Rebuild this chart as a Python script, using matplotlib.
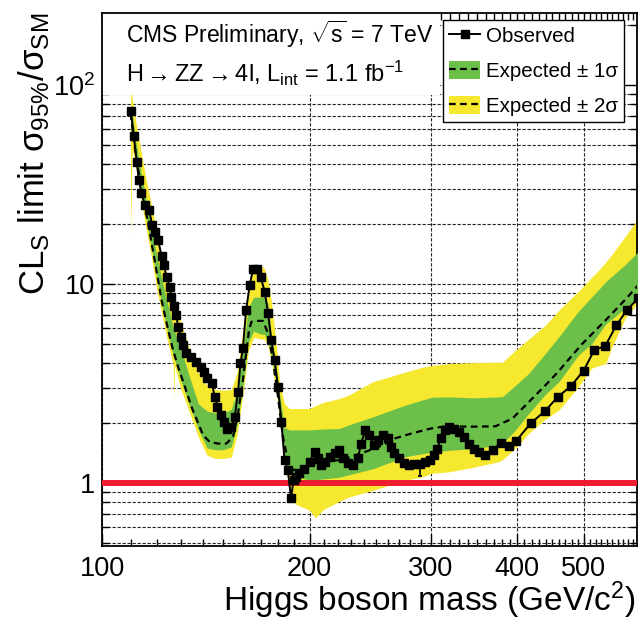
import matplotlib
matplotlib.use('Agg')
import matplotlib.pyplot as plt
from matplotlib.lines import Line2D
from matplotlib.patches import Patch, Rectangle
from matplotlib.ticker import FixedLocator, NullFormatter, FixedFormatter

plt.rcParams['font.family'] = ['Liberation Sans', 'DejaVu Sans']
plt.rcParams['mathtext.fontset'] = 'custom'
plt.rcParams['mathtext.rm'] = 'Liberation Sans'
plt.rcParams['mathtext.it'] = 'Liberation Sans:italic'
plt.rcParams['mathtext.bf'] = 'Liberation Sans:bold'

# observed limit (Higgs mass in GeV, sigma95/sigmaSM)
obs_mass = [110.1, 111.2, 112.3, 113.1, 114.1, 115.4, 117.1, 118.2, 119.3, 120.6,
            122.0, 123.0, 124.1, 125.4, 126.1, 127.1, 128.2, 128.9, 130.1, 131.1,
            132.6, 134.8, 137.1, 139.1, 140.5, 142.0, 144.4, 145.7, 147.0, 148.6,
            150.3, 152.0, 154.1, 155.8, 157.5, 158.8, 160.1, 161.8, 163.8, 165.6,
            167.8, 169.8, 172.2, 174.1, 176.0, 178.0, 180.0, 182.0, 184.0, 186.0,
            188.0, 189.6, 191.3, 193.4, 196.6, 200.0, 203.4, 205.6, 207.9, 210.9,
            213.8, 217.4, 220.4, 223.4, 227.4, 231.1, 235.0, 237.6, 241.0, 244.3,
            247.8, 251.2, 255.4, 259.7, 262.6, 265.5, 269.5, 274.6, 279.2, 283.9,
            289.3, 294.4, 299.0, 303.2, 306.6, 309.9, 314.4, 318.6, 324.0, 329.5,
            335.1, 340.8, 346.6, 352.5, 359.3, 368.5, 378.8, 389.3, 398.8, 418.7,
            439.0, 457.8, 478.7, 499.5, 517.6, 536.8, 557.4, 577.3, 599.0]
obs_limit = [74.3, 55.4, 41.2, 33.3, 28.6, 24.9, 23.5, 19.8, 18.3, 16.6,
             13.9, 12.4, 10.8, 9.7, 8.63, 7.75, 6.98, 6.1, 5.44, 4.94,
             4.48, 4.28, 4.07, 3.84, 3.6, 3.38, 3.17, 2.70, 2.42, 2.20,
             2.03, 1.88, 1.92, 2.15, 2.88, 4.0, 4.75, 7.4, 9.9, 11.9,
             11.9, 10.9, 9.15, 7.17, 5.23, 4.15, 3.05, 2.03, 1.30, 1.16,
             0.84, 1.035, 1.076, 1.12, 1.18, 1.28, 1.44, 1.33, 1.23, 1.28,
             1.36, 1.41, 1.47, 1.34, 1.26, 1.23, 1.33, 1.58, 1.85, 1.74,
             1.55, 1.64, 1.74, 1.68, 1.52, 1.41, 1.33, 1.26, 1.23, 1.25,
             1.25, 1.28, 1.30, 1.38, 1.49, 1.68, 1.85, 1.92, 1.88, 1.81,
             1.71, 1.58, 1.49, 1.44, 1.39, 1.46, 1.59, 1.54, 1.63, 2.0,
             2.30, 2.70, 3.07, 3.67, 4.66, 4.88, 6.22, 7.4, 8.47]
err_mass = 289.3
err_low = 1.08

# median expected
exp_mass = [110, 112.3, 116.7, 120.6, 122, 124.1, 126.4, 128.9, 131.9, 134.8,
            137.9, 140.2, 143.3, 147.3, 151.5, 154.9, 157.5, 160.1, 163.4, 164.7,
            167.2, 171.2, 174.1, 177, 180, 183, 186, 189, 193.4, 197.6,
            204.4, 213.8, 223.4, 241.5, 255.4, 266.3, 281.9, 299.9, 315.2, 343.7,
            372.2, 393.7, 412, 440, 458, 470, 497, 538, 575, 600]
exp_limit = [72, 41, 20, 10.5, 8.3, 6.35, 4.84, 3.84, 3.05, 2.42,
             2.0, 1.74, 1.61, 1.58, 1.58, 1.71, 2.24, 3.29, 5.87, 6.46,
             6.53, 6.53, 5.65, 4.15, 2.71, 1.71, 1.30, 1.16, 1.18, 1.21,
             1.26, 1.29, 1.31, 1.44, 1.55, 1.68, 1.78, 1.88, 1.93, 1.92,
             1.93, 2.11, 2.47, 3.11, 3.6, 4.0, 5.0, 6.6, 8.4, 9.9]

# +-1 sigma / +-2 sigma bands
band_mass = [110, 110.6, 112, 114, 116, 118, 120, 122, 124, 126,
             126.8, 127.1, 127.4, 130, 134, 138, 142, 146, 150, 154,
             157, 160, 163, 166, 170, 172, 174, 176, 179, 181,
             184, 187, 190, 200, 204, 210, 221, 228, 247, 276,
             290, 301, 319, 345, 376, 381, 398, 416, 440, 460,
             491, 513, 527, 538, 550, 575, 600]
two_lo = [17, 48, 38, 26, 18.5, 13.5, 9.5, 7.2, 5.5, 4.3,
          4.0, 2.6, 3.9, 3.0, 2.25, 1.7, 1.38, 1.33, 1.33, 1.35,
          1.75, 2.75, 4.6, 5.4, 5.3, 5.3, 4.9, 4.1, 2.8, 2.1,
          1.25, 0.95, 0.79, 0.73, 0.67, 0.74, 0.81, 0.85, 0.92, 1.035,
          1.07, 1.12, 1.14, 1.2, 1.28, 1.31, 1.5, 1.78, 2.1, 2.33,
          3.05, 3.78, 3.9, 3.99, 4.9, 6.8, 8.1]
one_lo = [64, 58, 42, 29, 21, 15, 10.8, 8.0, 6.1, 4.8,
          4.4, 4.3, 4.2, 3.3, 2.45, 1.85, 1.5, 1.47, 1.47, 1.52,
          1.95, 3.0, 5.1, 5.8, 5.6, 5.6, 5.1, 4.4, 3.1, 2.3,
          1.38, 1.14, 1.08, 1.035, 1.04, 1.05, 1.07, 1.1, 1.18, 1.36,
          1.40, 1.43, 1.46, 1.49, 1.55, 1.58, 1.85, 2.24, 2.8, 3.23,
          4.4, 5.0, 5.7, 6.3, 6.7, 7.6, 8.4]
one_hi = [80, 72, 52, 36, 26, 19.5, 14, 10.8, 8.4, 6.7,
          6.1, 5.9, 5.8, 4.8, 3.4, 2.5, 2.3, 2.25, 2.24, 2.35,
          2.9, 4.6, 7.6, 8.6, 8.6, 8.6, 8.0, 5.6, 3.7, 2.8,
          1.9, 1.85, 1.85, 1.85, 1.86, 1.87, 1.88, 1.96, 2.15, 2.47,
          2.6, 2.70, 2.71, 2.68, 2.71, 2.72, 3.1, 3.56, 4.5, 5.44,
          7.3, 8.6, 9.5, 10.3, 11.0, 12.6, 14.6]
two_hi = [92, 86, 65, 46, 33, 25, 18.5, 14, 11.5, 9.0,
          8.3, 8.1, 7.9, 6.5, 4.7, 3.6, 3.1, 2.95, 2.93, 2.95,
          3.6, 5.8, 9.6, 12.0, 12.4, 12.0, 10.5, 8.3, 5.0, 3.2,
          2.5, 2.37, 2.37, 2.37, 2.45, 2.55, 2.66, 2.77, 3.23, 3.62,
          3.8, 3.9, 3.99, 4.03, 4.05, 4.05, 4.66, 5.3, 6.22, 7.4,
          9.2, 10.8, 11.9, 12.9, 14.2, 17.5, 21.5]

x_major = [100, 200, 300, 400, 500]
x_minor = list(range(110, 600, 10))
y_major = [1, 10, 100]
y_major_labels = ['1', '10', r'$\mathregular{10^{2}}$']

green = '#6cc04a'
yellow = '#f6e72f'
red = '#ee1c2e'

fig = plt.figure(figsize=(6.41, 6.22), dpi=100)
ax = fig.add_axes([102 / 641, 1 - 546 / 622, 535 / 641, 533 / 622])
ax.set_xscale('log')
ax.set_yscale('log')
ax.set_xlim(100, 597)
ax.set_ylim(0.483, 230)

ax.fill_between(band_mass, two_lo, two_hi, color=yellow, lw=0, zorder=2)
ax.fill_between(band_mass, one_lo, one_hi, color=green, lw=0, zorder=3)
ax.plot(exp_mass, exp_limit, color='black', lw=1.6, ls=(0, (3, 2)), zorder=4)
ax.axhline(1.0, color=red, lw=4.3, zorder=5)
ax.plot(obs_mass, obs_limit, color='black', lw=1.4, marker='s', ms=5.4, zorder=6)
ax.vlines(err_mass, err_low, obs_limit[obs_mass.index(err_mass)], color='black', lw=1.2, zorder=6)
ax.hlines(err_low, err_mass - 2, err_mass + 2, color='black', lw=1.2, zorder=6)

# grid: all y ticks, x only at labelled masses
ax.xaxis.set_major_locator(FixedLocator(x_major))
ax.xaxis.set_major_formatter(FixedFormatter([str(v) for v in x_major]))
ax.xaxis.set_minor_locator(FixedLocator(x_minor))
ax.xaxis.set_minor_formatter(NullFormatter())
ax.yaxis.set_major_locator(FixedLocator(y_major))
ax.yaxis.set_major_formatter(FixedFormatter(y_major_labels))
y_minor = [m * d for d in (0.1, 1, 10, 100) for m in range(2, 10)]
ax.yaxis.set_minor_locator(FixedLocator(y_minor))
ax.yaxis.set_minor_formatter(NullFormatter())

grid_kw = dict(color='0.15', lw=0.8, ls=(0, (3, 1.5)))
ax.grid(True, axis='x', which='major', **grid_kw)
ax.grid(True, axis='y', which='both', **grid_kw)
ax.set_axisbelow(True)

ax.tick_params(which='both', direction='in', top=True, right=True, width=1, colors='black')
ax.tick_params(which='major', length=8.6, labelsize=19.5)
ax.tick_params(which='minor', length=5)
ax.tick_params(axis='x', which='major', pad=7)
ax.tick_params(axis='y', which='major', pad=5)
for s in ax.spines.values():
    s.set_linewidth(1.3)

# white pave behind the header text
ax.add_patch(Rectangle((0, (546 - 95) / 533), (440 - 102) / 535, 1, transform=ax.transAxes,
                       facecolor='white', edgecolor='none', zorder=1))
ax.text(24 / 535, (546 - 34) / 533, r'CMS Preliminary, $\sqrt{\mathregular{s}}$ = 7 TeV',
        transform=ax.transAxes, fontsize=16.5, va='center', ha='left', zorder=7)
ax.text(24 / 535, (546 - 73) / 533,
        r'H$\rightarrow$ZZ$\rightarrow$4l, L$_{\mathregular{int}}$ = 1.1 fb$^{\mathregular{-1}}$',
        transform=ax.transAxes, fontsize=17, va='center', ha='left', zorder=7)

handles = [Line2D([], [], color='black', lw=1.4, marker='s', ms=5.4),
           (Patch(facecolor=green, edgecolor='none'), Line2D([], [], color='black', lw=1.6, ls=(0, (3, 2)))),
           (Patch(facecolor=yellow, edgecolor='none'), Line2D([], [], color='black', lw=1.6, ls=(0, (3, 2))))]
labels = ['Observed', 'Expected ± 1σ', 'Expected ± 2σ']
leg = ax.legend(handles, labels, loc='upper right', bbox_to_anchor=((624 - 102) / 535, (546 - 20) / 533),
                borderaxespad=0, fontsize=14.8, frameon=True, fancybox=False, framealpha=1,
                edgecolor='black', handlelength=1.5, handleheight=1.0, handletextpad=0.3,
                labelspacing=0.72, borderpad=0.28)
leg.get_frame().set_linewidth(1.0)
leg.set_zorder(10)

fig.text(34 / 641, 1 - 13 / 622, r'CL$_{\mathregular{S}}$ limit $\mathregular{\sigma_{95\%}/\sigma_{SM}}$',
         rotation=90, ha='center', va='top', fontsize=25)
fig.text(636 / 641, 1 - 611 / 622, r'Higgs boson mass (GeV/c$^{\mathregular{2}}$)',
         ha='right', va='baseline', fontsize=24)

fig.savefig('out.png', dpi=100)
